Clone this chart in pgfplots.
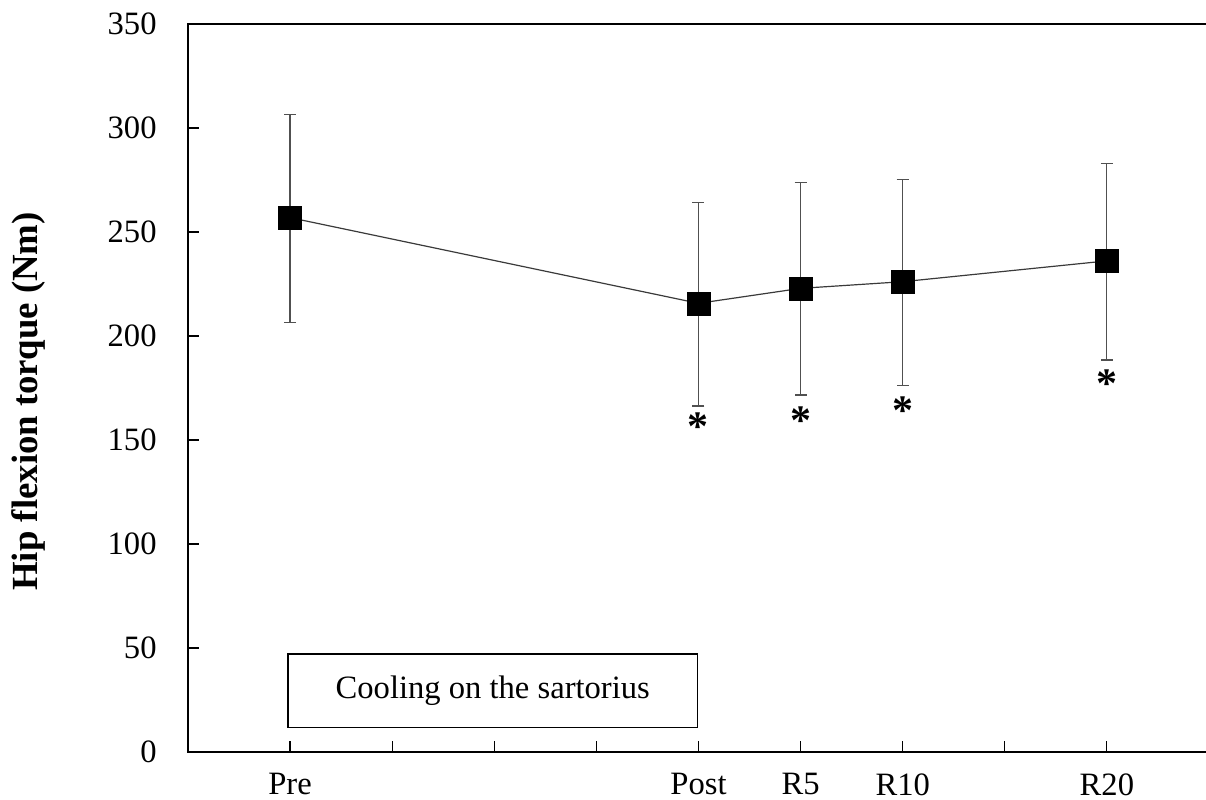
\documentclass[border=0pt]{standalone}
\usepackage{pgfplots}
\pgfplotsset{compat=1.18}
\usepackage{pgfplotstable}
\usepackage{fontspec}
\setmainfont{Liberation Serif}
\definecolor{linegray}{HTML}{3A3A3A}
\definecolor{errgray}{HTML}{505050}
\pgfplotstableread{
x y ep em
0 256.9 49.4 50.3
4 215.7 48.6 49.4
5 222.9 50.8 51.3
6 226.1 49.2 50.0
8 236.1 46.9 47.6
}\torque
\begin{document}
\begin{tikzpicture}
\begin{axis}[
  scale only axis,
  width=510.5pt, height=364pt,
  xmin=-1, xmax=9,
  ymin=0, ymax=350,
  xtick={0,1,2,3,4,5,6,7,8},
  xticklabels={Pre,,,,Post,R5,R10,,R20},
  ytick={0,50,100,150,200,250,300,350},
  tick align=inside,
  xtick pos=bottom, ytick pos=left,
  major tick length=5.5pt,
  tick style={black, line width=0.6pt},
  axis line style={black, line width=0.7pt},
  /pgf/number format/assume math mode=true,
  tick label style={font=\fontsize{16.3}{19}\selectfont, inner sep=0pt},
  yticklabel style={anchor=east, xshift=-15.5pt},
  xticklabel style={anchor=north, yshift=-10.5pt},
  every axis y label/.style={at={(rel axis cs:-0.1567,0.4815)}, rotate=90, anchor=center},
  ylabel={\fontsize{18.4}{21}\selectfont\bfseries Hip flexion torque (Nm)},
  clip=false,
]
\addplot[color=linegray, line width=0.6pt,
  mark=square*, mark size=5.75pt, mark options={fill=black, draw=black, line width=0.3pt},
  error bars/.cd, y dir=both, y explicit,
  error mark=|, error mark options={errgray, line width=0.6pt, mark size=3pt},
  error bar style={errgray, line width=0.6pt}]
  table[x=x, y=y, y error plus=ep, y error minus=em]{\torque};
\node[font=\fontsize{21}{23}\selectfont\bfseries] at (axis cs:4,156.5) {*};
\node[font=\fontsize{21}{23}\selectfont\bfseries] at (axis cs:5,159.5) {*};
\node[font=\fontsize{21}{23}\selectfont\bfseries] at (axis cs:6,164.3) {*};
\node[font=\fontsize{21}{23}\selectfont\bfseries] at (axis cs:8,177.1) {*};
\draw[black, line width=0.7pt] (axis cs:-0.02,11.9) rectangle (axis cs:3.99,47.1);
\node[font=\fontsize{16.3}{19}\selectfont] at (axis cs:1.985,29.5) {Cooling on the sartorius};
\coordinate (bl) at (rel axis cs:0,0);
\coordinate (tr) at (rel axis cs:1,1);
\end{axis}
\pgfresetboundingbox
\path ([shift={(-94pt,-24pt)}]bl) rectangle ([shift={(-1.5pt,12pt)}]tr);
\end{tikzpicture}
\end{document}
